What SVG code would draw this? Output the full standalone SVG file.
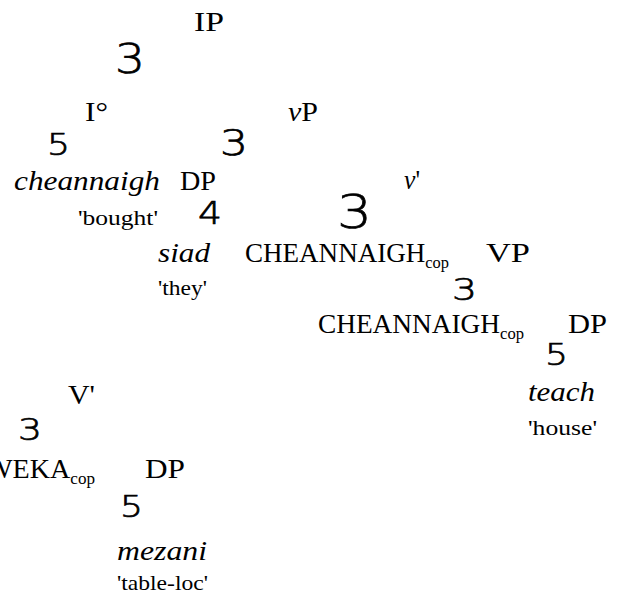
<svg xmlns="http://www.w3.org/2000/svg" width="631" height="604" viewBox="0 0 631 604">
  <style>
    .lab { font-family: "Liberation Serif", "Times New Roman", serif; font-size: 28px; fill: #000; }
    .gl  { font-family: "Liberation Serif", "Times New Roman", serif; font-size: 21px; fill: #000; }
    .it  { font-style: italic; }
    .sub { font-size: 17px; }
    .br  { font-family: "DejaVu Sans", "Liberation Sans", sans-serif; font-weight: 200; fill: #000; stroke: #000; stroke-width: 0.7px; }
  </style>
  <rect width="631" height="604" fill="#fff"/>

  <!-- branch glyphs of the tree -->
  <g id="branches" class="br">
    <text x="115" y="73" font-size="40" textLength="30" lengthAdjust="spacingAndGlyphs">3</text>
    <text x="47" y="155" font-size="31" textLength="23" lengthAdjust="spacingAndGlyphs">5</text>
    <text x="220" y="155" font-size="35" textLength="28" lengthAdjust="spacingAndGlyphs">3</text>
    <text x="198" y="224" font-size="32" textLength="24" lengthAdjust="spacingAndGlyphs">4</text>
    <text x="337" y="228" font-size="46" textLength="35" lengthAdjust="spacingAndGlyphs">3</text>
    <text x="452" y="300" font-size="31" textLength="25" lengthAdjust="spacingAndGlyphs">3</text>
    <text x="545" y="365" font-size="31" textLength="23" lengthAdjust="spacingAndGlyphs">5</text>
    <text x="18" y="440" font-size="31" textLength="24" lengthAdjust="spacingAndGlyphs">3</text>
    <text x="120" y="517" font-size="31" textLength="23" lengthAdjust="spacingAndGlyphs">5</text>
  </g>

  <g id="IP"><text class="lab" x="194" y="31" textLength="30" lengthAdjust="spacingAndGlyphs">IP</text></g>
  <g id="I0"><text class="lab" x="85" y="121" textLength="23" lengthAdjust="spacingAndGlyphs">I°</text></g>
  <g id="vP"><text class="lab" x="288" y="121" textLength="30" lengthAdjust="spacingAndGlyphs"><tspan class="it">v</tspan>P</text></g>

  <g id="cheannaigh">
    <text class="lab it" x="14" y="190" textLength="146" lengthAdjust="spacingAndGlyphs">cheannaigh</text>
    <text class="gl" x="78" y="225" textLength="80" lengthAdjust="spacingAndGlyphs">'bought'</text>
  </g>
  <g id="DP-subj"><text class="lab" x="180" y="190" textLength="36" lengthAdjust="spacingAndGlyphs">DP</text></g>
  <g id="v-bar"><text class="lab" x="404" y="189" textLength="16" lengthAdjust="spacingAndGlyphs"><tspan class="it">v</tspan>'</text></g>

  <g id="siad">
    <text class="lab it" x="158" y="262" textLength="52" lengthAdjust="spacingAndGlyphs">siad</text>
    <text class="gl" x="158" y="295" textLength="49" lengthAdjust="spacingAndGlyphs">'they'</text>
  </g>
  <g id="v-head"><text class="lab" x="245" y="262" textLength="204" lengthAdjust="spacingAndGlyphs">CHEANNAIGH<tspan class="sub" dy="6">cop</tspan></text></g>
  <g id="VP"><text class="lab" x="486" y="262" textLength="44" lengthAdjust="spacingAndGlyphs">VP</text></g>

  <g id="V-head"><text class="lab" x="318" y="333" textLength="206" lengthAdjust="spacingAndGlyphs">CHEANNAIGH<tspan class="sub" dy="6">cop</tspan></text></g>
  <g id="DP-obj"><text class="lab" x="568" y="333" textLength="39" lengthAdjust="spacingAndGlyphs">DP</text></g>
  <g id="teach">
    <text class="lab it" x="528" y="401" textLength="67" lengthAdjust="spacingAndGlyphs">teach</text>
    <text class="gl" x="528" y="435" textLength="69" lengthAdjust="spacingAndGlyphs">'house'</text>
  </g>

  <g id="V-bar"><text class="lab" x="68" y="404" textLength="27" lengthAdjust="spacingAndGlyphs">V'</text></g>
  <g id="WEKA"><text class="lab" x="-14" y="478" textLength="109" lengthAdjust="spacingAndGlyphs">WEKA<tspan class="sub" dy="6">cop</tspan></text></g>
  <g id="DP-loc"><text class="lab" x="145" y="478" textLength="40" lengthAdjust="spacingAndGlyphs">DP</text></g>
  <g id="mezani">
    <text class="lab it" x="117" y="560" textLength="90" lengthAdjust="spacingAndGlyphs">mezani</text>
    <text class="gl" x="117" y="590" textLength="91" lengthAdjust="spacingAndGlyphs">'table-loc'</text>
  </g>
</svg>
